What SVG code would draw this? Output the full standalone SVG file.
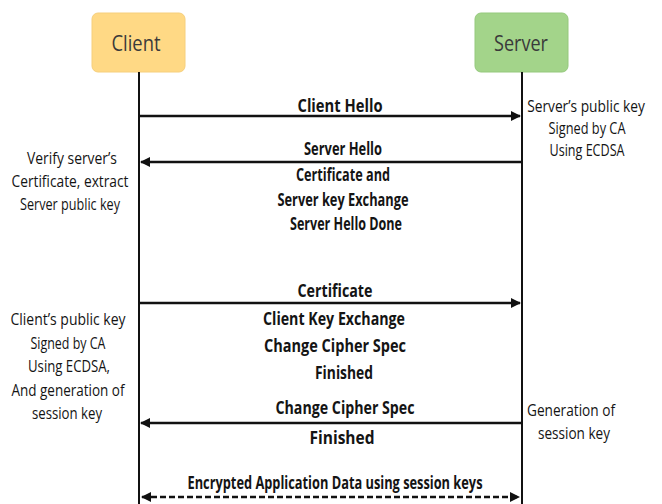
<svg xmlns="http://www.w3.org/2000/svg" width="662" height="504" viewBox="0 0 662 504">
  <style>
    .msg { font-family: "Open Sans", "Noto Sans", "Liberation Sans", sans-serif; font-size: 17.5px; font-weight: bold; fill: #141414; text-anchor: middle; }
    .note { font-family: "Open Sans", "Noto Sans", "Liberation Sans", sans-serif; font-size: 16.5px; fill: #141414; text-anchor: middle; }
    .actor { font-family: "Open Sans", "Noto Sans", "Liberation Sans", sans-serif; font-size: 22px; fill: #3a3a3a; text-anchor: middle; }
    .life { stroke: #111; stroke-width: 2; fill: none; }
    .arrow { stroke: #111; stroke-width: 2.5; fill: none; }
    .dashed { stroke: #111; stroke-width: 2.5; stroke-dasharray: 6 3; fill: none; }
  </style>
  <defs>
    <marker id="head" viewBox="0 0 10 10" refX="9" refY="5" markerWidth="4" markerHeight="4" orient="auto-start-reverse" markerUnits="strokeWidth">
      <path d="M0,0 L10,5 L0,10 z" fill="#111"/>
    </marker>
  </defs>
  <rect width="662" height="504" fill="#fff"/>

  <!-- actors -->
  <g id="client">
    <rect x="92" y="13" width="93" height="59" rx="6" fill="#ffd985" stroke="#f6cf7c" stroke-width="1"/>
    <text class="actor" x="136" y="51" textLength="49" lengthAdjust="spacingAndGlyphs">Client</text>
  </g>
  <g id="server">
    <rect x="475" y="13" width="93" height="59" rx="6" fill="#a3d48a" stroke="#95c97d" stroke-width="1"/>
    <text class="actor" x="521" y="51" textLength="54" lengthAdjust="spacingAndGlyphs">Server</text>
  </g>

  <!-- lifelines and messages -->
  <g id="connectors">
    <line class="life" x1="139" y1="72" x2="139" y2="504"/>
    <line class="life" x1="522" y1="72" x2="522" y2="504"/>
    <line class="arrow" x1="139" y1="116" x2="520" y2="116" marker-end="url(#head)"/>
    <line class="arrow" x1="522" y1="162" x2="141" y2="162" marker-end="url(#head)"/>
    <line class="arrow" x1="139" y1="303" x2="520" y2="303" marker-end="url(#head)"/>
    <line class="arrow" x1="522" y1="423" x2="141" y2="423" marker-end="url(#head)"/>
    <line class="dashed" x1="142" y1="497" x2="519" y2="497" marker-start="url(#head)" marker-end="url(#head)"/>
  </g>

  <!-- message labels -->
  <g id="msg-client-hello">
    <text class="msg" x="340" y="112" textLength="85" lengthAdjust="spacingAndGlyphs">Client Hello</text>
  </g>
  <g id="msg-server-hello">
    <text class="msg" x="343" y="155" textLength="78" lengthAdjust="spacingAndGlyphs">Server Hello</text>
    <text class="msg" x="343" y="181" textLength="94" lengthAdjust="spacingAndGlyphs">Certificate and</text>
    <text class="msg" x="343" y="206" textLength="131" lengthAdjust="spacingAndGlyphs">Server key Exchange</text>
    <text class="msg" x="346" y="230" textLength="112" lengthAdjust="spacingAndGlyphs">Server Hello Done</text>
  </g>
  <g id="msg-client-key">
    <text class="msg" x="335" y="297" textLength="75" lengthAdjust="spacingAndGlyphs">Certificate</text>
    <text class="msg" x="334" y="325" textLength="142" lengthAdjust="spacingAndGlyphs">Client Key Exchange</text>
    <text class="msg" x="335" y="352" textLength="142" lengthAdjust="spacingAndGlyphs">Change Cipher Spec</text>
    <text class="msg" x="344" y="379" textLength="58" lengthAdjust="spacingAndGlyphs">Finished</text>
  </g>
  <g id="msg-server-finished">
    <text class="msg" x="345" y="414" textLength="139" lengthAdjust="spacingAndGlyphs">Change Cipher Spec</text>
    <text class="msg" x="342" y="444" textLength="65" lengthAdjust="spacingAndGlyphs">Finished</text>
  </g>
  <g id="msg-app-data">
    <text class="msg" x="335" y="489" font-size="15" textLength="295" lengthAdjust="spacingAndGlyphs">Encrypted Application Data using session keys</text>
  </g>

  <!-- side notes -->
  <g id="note-server-key">
    <!-- narrowed horizontally so the line stays clear of the right edge -->
    <text class="note" transform="translate(586,112) scale(0.75,1)" x="0" y="0" textLength="157" lengthAdjust="spacingAndGlyphs">Server’s public key</text>
    <text class="note" x="587" y="134" textLength="77" lengthAdjust="spacingAndGlyphs">Signed by CA</text>
    <text class="note" x="587" y="156" textLength="75" lengthAdjust="spacingAndGlyphs">Using ECDSA</text>
  </g>
  <g id="note-verify">
    <text class="note" x="72" y="164" textLength="90" lengthAdjust="spacingAndGlyphs">Verify server’s</text>
    <text class="note" x="70" y="187" textLength="117" lengthAdjust="spacingAndGlyphs">Certificate, extract</text>
    <text class="note" x="70" y="210" textLength="100" lengthAdjust="spacingAndGlyphs">Server public key</text>
  </g>
  <g id="note-client-key">
    <text class="note" x="68" y="325" textLength="115" lengthAdjust="spacingAndGlyphs">Client’s public key</text>
    <text class="note" x="68" y="349" textLength="75" lengthAdjust="spacingAndGlyphs">Signed by CA</text>
    <text class="note" x="69" y="372" textLength="82" lengthAdjust="spacingAndGlyphs">Using ECDSA,</text>
    <text class="note" x="68" y="396" textLength="113" lengthAdjust="spacingAndGlyphs">And generation of</text>
    <text class="note" x="67" y="419" textLength="70" lengthAdjust="spacingAndGlyphs">session key</text>
  </g>
  <g id="note-session">
    <text class="note" x="571" y="416" textLength="88" lengthAdjust="spacingAndGlyphs">Generation of</text>
    <text class="note" x="574" y="439" textLength="72" lengthAdjust="spacingAndGlyphs">session key</text>
  </g>
</svg>
